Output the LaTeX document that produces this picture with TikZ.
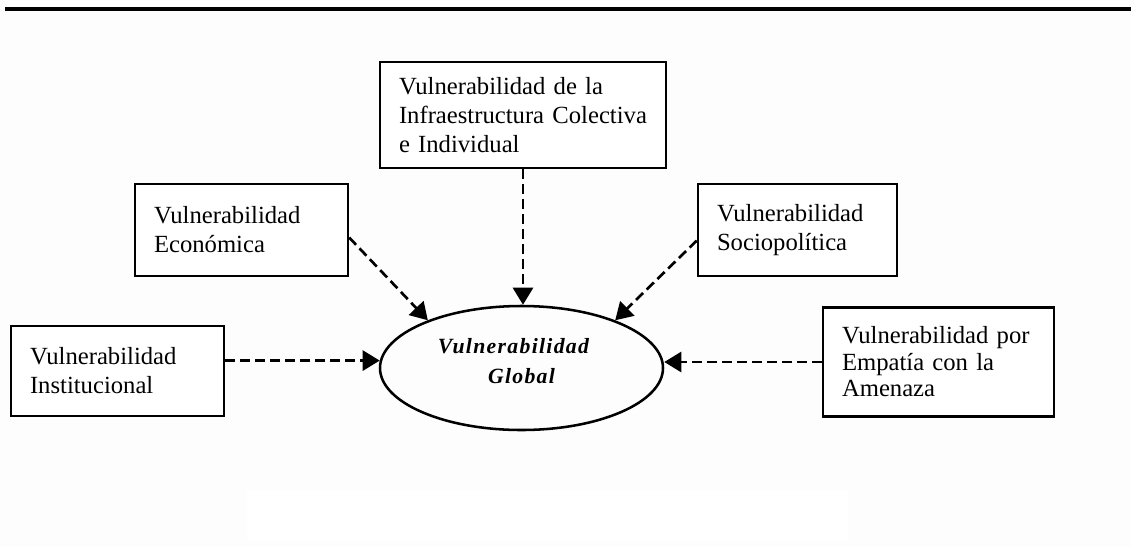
\documentclass[tikz,border=0pt]{standalone}
\usepackage{fontspec}
\setmainfont{Liberation Serif}
\newfontfamily\ellfont[LetterSpace=6]{Liberation Serif}
\usetikzlibrary{arrows.meta,shapes.geometric}

\definecolor{paper}{HTML}{FDFDFD}

\tikzset{
  factor/.style={draw=black, line width=1.8pt, fill=white, rectangle,
    align=left, inner xsep=14.25pt, inner ysep=0pt,
    font=\fontsize{18.5pt}{21.75pt}\selectfont},
  globalnode/.style={draw=black, line width=1.9pt, ellipse, inner sep=0pt,
    minimum width=212.25pt, minimum height=93pt, align=center,
    font=\ellfont\bfseries\itshape\fontsize{16.3pt}{22.5pt}\selectfont},
  feed/.style={draw=black, line width=2pt, dash pattern=on 7.5pt off 3.75pt,
    -{Triangle[length=12.75pt,width=15pt]}},
}

\begin{document}
\begin{tikzpicture}[x=0.75pt,y=-0.75pt]
  % page and header rule
  \fill[paper] (0,0) rectangle (1131,547);
  \useasboundingbox (0,0) rectangle (1131,547);
  \fill[white] (247,490) rectangle (848,540);
  \draw[line width=2.3pt] (5,9) -- (1131,9);

  % factor boxes
  \node[factor, text width=186pt,   minimum height=79.5pt] (infra) at (523,115)
    {Vulnerabilidad~de~la\\Infraestructura~Colectiva\\e~Individual};
  \node[factor, text width=131.25pt, minimum height=69pt] (econ) at (241.5,230)
    {Vulnerabilidad\\Económica};
  \node[factor, text width=120.75pt, minimum height=69pt] (socio) at (797.5,230)
    {Vulnerabilidad\\Sociopolítica};
  \node[factor, text width=131.25pt, minimum height=67.5pt] (inst) at (117.5,371)
    {Vulnerabilidad\\Institucional};
  \node[factor, text width=144.75pt, minimum height=82pt,
        font=\fontsize{18.5pt}{19.9pt}\selectfont] (amen) at (938.5,362)
    {Vulnerabilidad~por\\Empatía~con~la\\Amenaza};

  % central ellipse
  \node[globalnode] (glob) at (521.5,368)
    {Vulnerabilidad\hspace*{12pt}\\Global\rule[-11pt]{0pt}{11pt}};

  % dashed feeds into the global node
  \draw[feed] (infra.south) -- (infra.south |- glob.north);
  \draw[feed] (econ.-4) -- (glob.153);
  \draw[feed] (socio.186) -- (glob.27);
  \draw[feed] (inst.east |- glob.177) -- (glob.177);
  \draw[feed] (amen.west) -- (amen.west -| glob.east);
\end{tikzpicture}
\end{document}
